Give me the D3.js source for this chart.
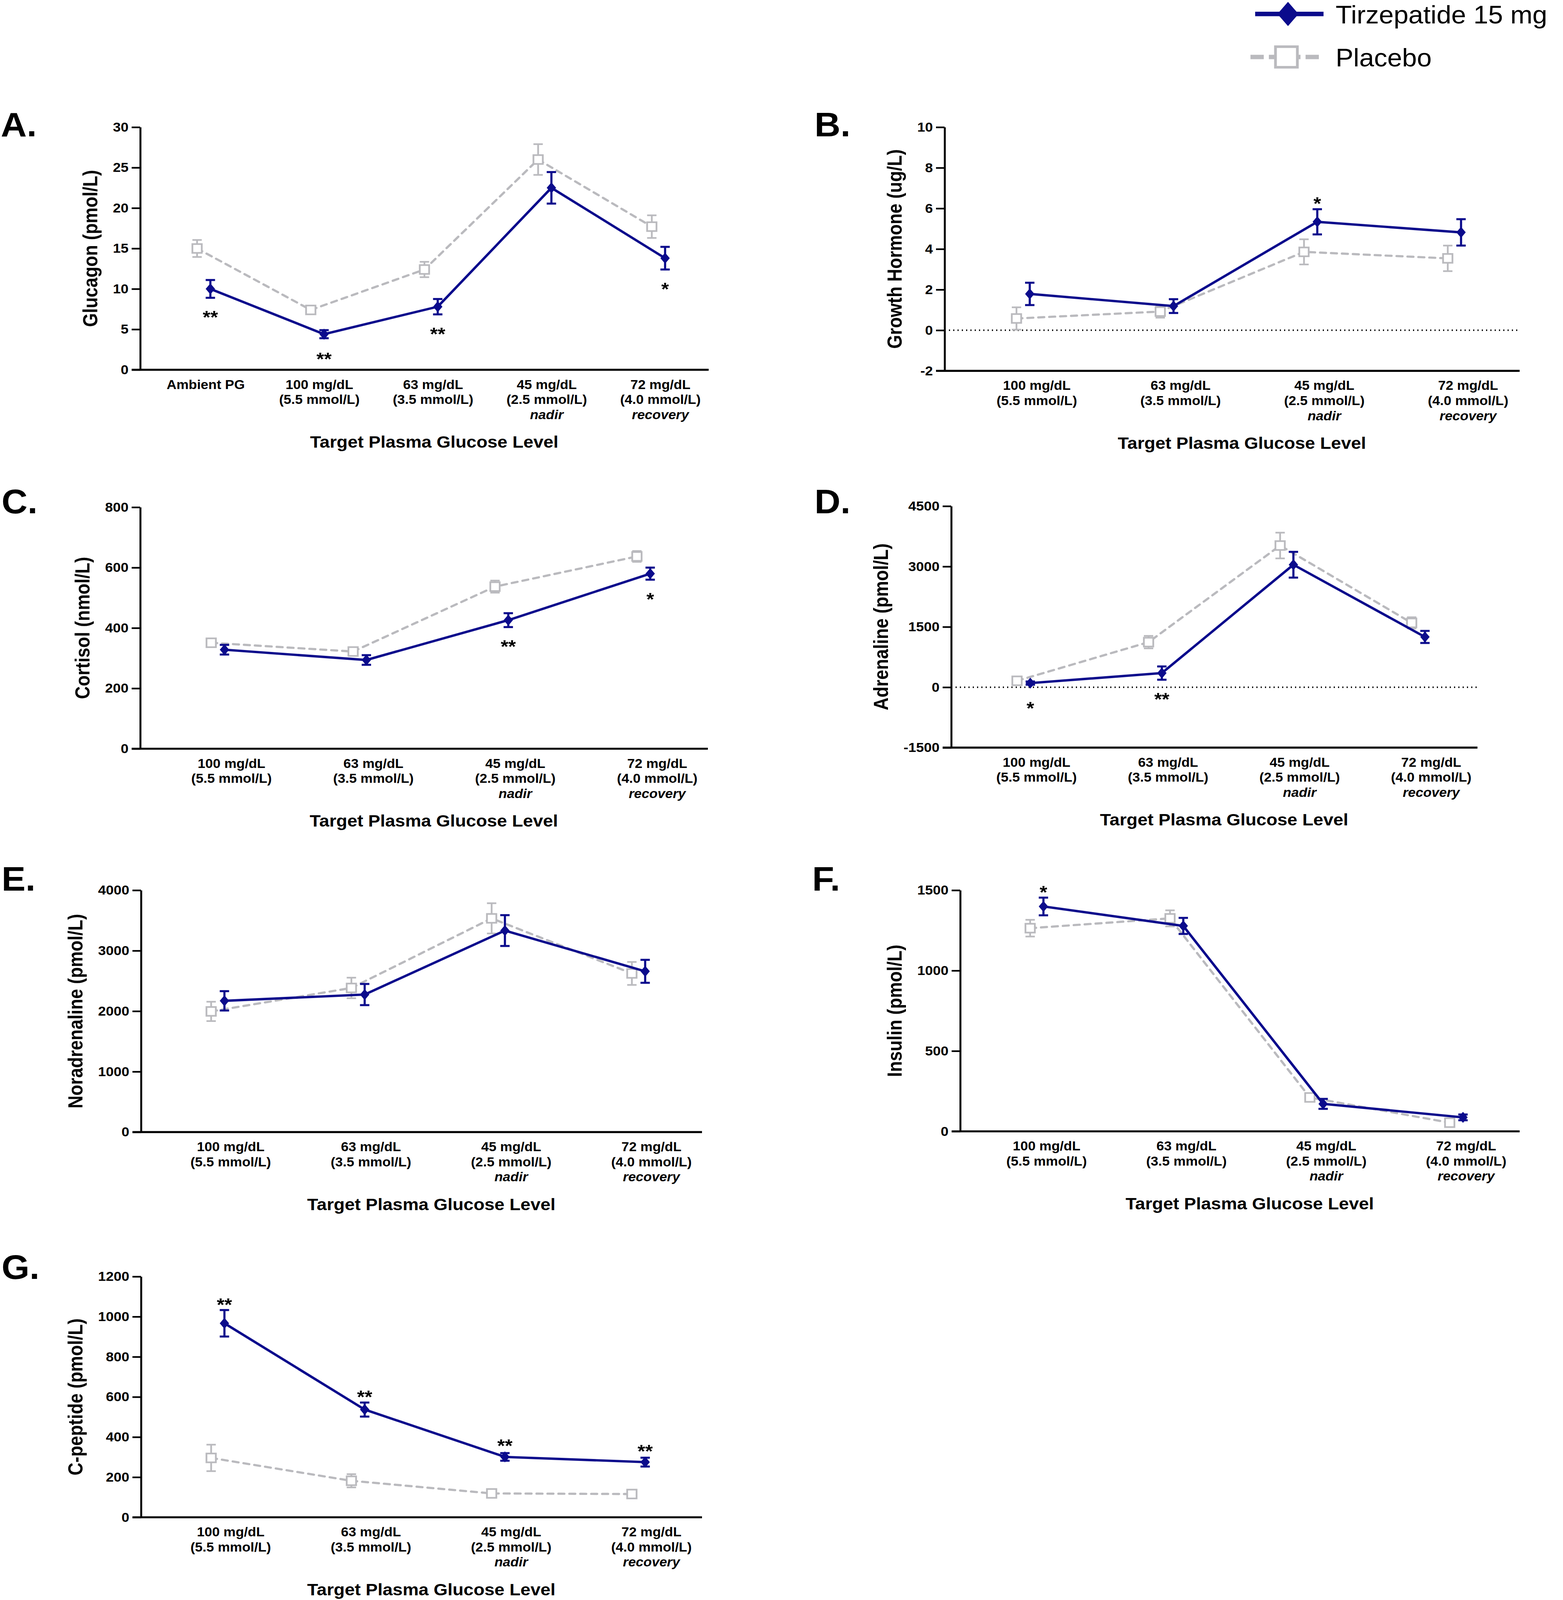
<!DOCTYPE html>
<html>
<head>
<meta charset="utf-8">
<script src="https://cdn.jsdelivr.net/npm/d3@7"></script>
<style>
  html, body { margin: 0; padding: 0; background: #fff; overflow: hidden; }
  svg { display: block; }
  text { font-family: "Liberation Sans", Arial, sans-serif; }
</style>
</head>
<body>
<div class="canvas"></div>
<script>
// category labels
const glucoseLabels = [
  ['100 mg/dL', '(5.5 mmol/L)'],
  ['63 mg/dL', '(3.5 mmol/L)'],
  ['45 mg/dL', '(2.5 mmol/L)', 'nadir'],
  ['72 mg/dL', '(4.0 mmol/L)', 'recovery']
];
const glucagonLabels = [['Ambient PG'], ...glucoseLabels];

// series values (mean and SEM)
const glucagonTirz = [10.0, 4.4, 7.8, 22.5, 13.8];
const glucagonTirzSem = [1.1, 0.5, 0.95, 1.95, 1.4];
const glucagonPbo = [15.0, 7.4, 12.4, 26.0, 17.7];
const glucagonPboSem = [1.05, 0.45, 0.95, 1.9, 1.4];
const glucagonSig = ['**', '**', '**', '', '*'];

const ghTirz = [1.79, 1.19, 5.34, 4.82];
const ghTirzSem = [0.55, 0.34, 0.62, 0.65];
const ghPbo = [0.58, 0.92, 3.86, 3.54];
const ghPboSem = [0.55, 0.3, 0.62, 0.63];
const ghSig = ['', '', '*', ''];

const cortisolTirz = [328, 294, 426, 580];
const cortisolTirzSem = [16, 16, 23, 20];
const cortisolPbo = [351, 322, 537, 637];
const cortisolPboSem = [8, 8, 20, 18];
const cortisolSig = ['', '', '**', '*'];

const adrenalineTirz = [103, 352, 3044, 1250];
const adrenalineTirzSem = [40, 165, 320, 150];
const adrenalinePbo = [160, 1121, 3521, 1599];
const adrenalinePboSem = [60, 155, 320, 140];
const adrenalineSig = ['*', '**', '', ''];

const noradTirz = [2171, 2275, 3333, 2659];
const noradTirzSem = [160, 175, 255, 190];
const noradPbo = [1996, 2384, 3535, 2624];
const noradPboSem = [160, 170, 250, 190];
const noradSig = ['', '', '', ''];

const insulinTirz = [1399, 1278, 171, 87];
const insulinTirzSem = [55, 50, 31, 18];
const insulinPbo = [1264, 1325, 211, 54];
const insulinPboSem = [52, 50, 25, 12];
const insulinSig = ['*', '', '', ''];

const cpepTirz = [967, 537, 301, 275];
const cpepTirzSem = [66, 35, 19, 22];
const cpepPbo = [296, 182, 119, 116];
const cpepPboSem = [66, 33, 10, 8];
const cpepSig = ['**', '**', '**', '**'];

// y ticks
const glucagonTicks = [0, 5, 10, 15, 20, 25, 30];
const ghTicks = [-2, 0, 2, 4, 6, 8, 10];
const cortisolTicks = [0, 200, 400, 600, 800];
const adrenalineTicks = [-1500, 0, 1500, 3000, 4500];
const noradTicks = [0, 1000, 2000, 3000, 4000];
const insulinTicks = [0, 500, 1000, 1500];
const cpepTicks = [0, 200, 400, 600, 800, 1000, 1200];

const seriesNames = ['Tirzepatide 15 mg', 'Placebo'];

const navy = '#0b0b8c';
const grey = '#bababe';

// the figure is laid out on a 4001x4353 sheet and fitted into the window
const svg = d3.select('.canvas')
  .append('svg')
    .attr('width', window.innerWidth || 4001)
    .attr('height', window.innerHeight || 4353)
    .attr('viewBox', '0 0 4001 4353')
    .attr('preserveAspectRatio', 'none');
svg.append('rect').attr('width', 4001).attr('height', 4353).attr('fill', '#fff');

const tickLen = 22;
const diamond = (w, h) => `M0,${-h}L${w},0L0,${h}L${-w},0Z`;

function drawPanel(p) {
  const W = p.x1 - p.x0;
  const H = p.y1 - p.y0;
  const g = svg.append('g').attr('transform', `translate(${p.x0},${p.y0})`);

  const x = d3.scaleBand()
    .domain(d3.range(p.labels.length))
    .range([0, W]);
  const y = d3.scaleLinear()
    .domain([p.ticks[0], p.ticks[p.ticks.length - 1]])
    .range([H, 0]);

  const px = i => x(i) + x.bandwidth() / 2;   // placebo
  const tx = i => px(i) + 34;                 // tirzepatide

  // zero reference line
  if (p.ticks[0] < 0) {
    g.append('line')
      .attr('x1', 0).attr('x2', W)
      .attr('y1', y(0)).attr('y2', y(0))
      .attr('stroke', '#000').attr('stroke-width', 4)
      .attr('stroke-dasharray', '3,8');
  }

  // y axis
  const yAxis = g.append('g')
    .call(d3.axisLeft(y).tickValues(p.ticks).tickFormat(d => String(d))
      .tickSize(tickLen).tickSizeOuter(0).tickPadding(8));
  yAxis.select('.domain').attr('stroke-width', 5);
  yAxis.selectAll('.tick line').attr('stroke-width', 4.5);
  yAxis.selectAll('.tick text')
    .attr('font-size', 36).attr('font-weight', 'bold')
    .attr('font-family', '"Liberation Sans", Arial, sans-serif');
  let maxW = 0;
  yAxis.selectAll('.tick text').each(function () {
    maxW = Math.max(maxW, this.getComputedTextLength());
  });

  // x axis
  const xAxis = g.append('g')
    .attr('transform', `translate(0,${H})`)
    .call(d3.axisBottom(x).tickSize(0).tickFormat(''));
  xAxis.select('.domain').attr('d', `M${-tickLen},0H${W}`).attr('stroke-width', 5.5);

  const labs = g.append('g').selectAll('text')
    .data(p.labels)
    .enter().append('text')
      .attr('text-anchor', 'middle')
      .attr('font-size', 35)
      .attr('font-weight', 'bold')
      .attr('transform', (d, i) => `translate(${px(i) + p.labelShift},${H + 52})`);
  labs.selectAll('tspan')
    .data(d => d)
    .enter().append('tspan')
      .attr('x', 0)
      .attr('y', (d, i) => i * 41)
      .attr('font-style', (d, i) => i === 2 ? 'italic' : 'normal')
      .text(d => d);

  // axis titles
  g.append('text')
    .attr('text-anchor', 'middle')
    .attr('font-size', 46).attr('font-weight', 'bold')
    .attr('x', W / 2 + 25).attr('y', H + 212)
    .text('Target Plasma Glucose Level');
  g.append('text')
    .attr('text-anchor', 'middle')
    .attr('font-size', 52).attr('font-weight', 'bold')
    .attr('transform', `translate(${-(tickLen + 8 + maxW + 40)},${H / 2}) rotate(-90) scale(0.93,1)`)
    .text(p.ylab);

  // panel letter
  svg.append('text')
    .attr('x', p.lx).attr('y', p.ly)
    .attr('font-size', 92).attr('font-weight', 'bold')
    .text(p.letter);

  // placebo
  const pbo = p.pbo.map((v, i) => ({ i, v, e: p.pboSem[i] }));
  g.append('path')
    .datum(pbo)
    .attr('fill', 'none').attr('stroke', grey).attr('stroke-width', 6)
    .attr('stroke-dasharray', '15,13').attr('stroke-linecap', 'round')
    .attr('d', d3.line().x(d => px(d.i)).y(d => y(d.v)));
  drawBars(g, pbo, px, y, grey, 4.5);
  g.selectAll('.pbo-pt')
    .data(pbo)
    .enter().append('rect')
      .attr('class', 'pbo-pt')
      .attr('x', d => px(d.i) - 12).attr('y', d => y(d.v) - 12)
      .attr('width', 24).attr('height', 24)
      .attr('fill', '#fff').attr('stroke', grey).attr('stroke-width', 4.5);

  // tirzepatide
  const tir = p.tirz.map((v, i) => ({ i, v, e: p.tirzSem[i], s: p.sig[i] }));
  g.append('path')
    .datum(tir)
    .attr('fill', 'none').attr('stroke', navy).attr('stroke-width', 6.5)
    .attr('d', d3.line().x(d => tx(d.i)).y(d => y(d.v)));
  drawBars(g, tir, tx, y, navy, 5.5);
  g.selectAll('.tir-pt')
    .data(tir)
    .enter().append('path')
      .attr('class', 'tir-pt')
      .attr('d', diamond(12, 15))
      .attr('fill', navy)
      .attr('transform', d => `translate(${tx(d.i)},${y(d.v)})`);

  // significance marks
  g.selectAll('.sig')
    .data(tir.filter(d => d.s))
    .enter().append('text')
      .attr('class', 'sig')
      .attr('text-anchor', 'middle')
      .attr('font-size', 50).attr('font-weight', 'bold')
      .attr('x', d => tx(d.i))
      .attr('y', d => p.starSide === 'below'
        ? Math.max(y(d.v - d.e), y(d.v) + 15) + 70
        : Math.min(y(d.v + d.e), y(d.v) - 15) + 2)
      .text(d => d.s);
}

function drawBars(g, data, xf, y, color, sw) {
  const cap = 12;
  const bars = g.append('g').attr('stroke', color).attr('stroke-width', sw);
  bars.selectAll('.v').data(data).enter().append('line')
    .attr('x1', d => xf(d.i)).attr('x2', d => xf(d.i))
    .attr('y1', d => y(d.v + d.e)).attr('y2', d => y(d.v - d.e));
  bars.selectAll('.t').data(data).enter().append('line')
    .attr('x1', d => xf(d.i) - cap).attr('x2', d => xf(d.i) + cap)
    .attr('y1', d => y(d.v + d.e)).attr('y2', d => y(d.v + d.e));
  bars.selectAll('.b').data(data).enter().append('line')
    .attr('x1', d => xf(d.i) - cap).attr('x2', d => xf(d.i) + cap)
    .attr('y1', d => y(d.v - d.e)).attr('y2', d => y(d.v - d.e));
}

const panels = [
  { letter: 'A.', lx: 2, ly: 371, x0: 359, x1: 1814, y0: 346, y1: 1006, labelShift: 22,
    labels: glucagonLabels, ticks: glucagonTicks, ylab: 'Glucagon (pmol/L)',
    tirz: glucagonTirz, tirzSem: glucagonTirzSem, pbo: glucagonPbo, pboSem: glucagonPboSem,
    sig: glucagonSig, starSide: 'below' },
  { letter: 'B.', lx: 2085, ly: 371, x0: 2418, x1: 3890, y0: 346, y1: 1009, labelShift: 52,
    labels: glucoseLabels, ticks: ghTicks, ylab: 'Growth Hormone (ug/L)',
    tirz: ghTirz, tirzSem: ghTirzSem, pbo: ghPbo, pboSem: ghPboSem,
    sig: ghSig, starSide: 'above' },
  { letter: 'C.', lx: 4, ly: 1396, x0: 359, x1: 1812, y0: 1380, y1: 2037, labelShift: 52,
    labels: glucoseLabels, ticks: cortisolTicks, ylab: 'Cortisol (nmol/L)',
    tirz: cortisolTirz, tirzSem: cortisolTirzSem, pbo: cortisolPbo, pboSem: cortisolPboSem,
    sig: cortisolSig, starSide: 'below' },
  { letter: 'D.', lx: 2085, ly: 1396, x0: 2435, x1: 3782, y0: 1377, y1: 2034, labelShift: 50,
    labels: glucoseLabels, ticks: adrenalineTicks, ylab: 'Adrenaline (pmol/L)',
    tirz: adrenalineTirz, tirzSem: adrenalineTirzSem, pbo: adrenalinePbo, pboSem: adrenalinePboSem,
    sig: adrenalineSig, starSide: 'below' },
  { letter: 'E.', lx: 4, ly: 2423, x0: 361, x1: 1797, y0: 2422, y1: 3080, labelShift: 50,
    labels: glucoseLabels, ticks: noradTicks, ylab: 'Noradrenaline (pmol/L)',
    tirz: noradTirz, tirzSem: noradTirzSem, pbo: noradPbo, pboSem: noradPboSem,
    sig: noradSig, starSide: 'above' },
  { letter: 'F.', lx: 2079, ly: 2423, x0: 2458, x1: 3890, y0: 2422, y1: 3078, labelShift: 42,
    labels: glucoseLabels, ticks: insulinTicks, ylab: 'Insulin (pmol/L)',
    tirz: insulinTirz, tirzSem: insulinTirzSem, pbo: insulinPbo, pboSem: insulinPboSem,
    sig: insulinSig, starSide: 'above' },
  { letter: 'G.', lx: 4, ly: 3479, x0: 361, x1: 1797, y0: 3473, y1: 4128, labelShift: 50,
    labels: glucoseLabels, ticks: cpepTicks, ylab: 'C-peptide (pmol/L)',
    tirz: cpepTirz, tirzSem: cpepTirzSem, pbo: cpepPbo, pboSem: cpepPboSem,
    sig: cpepSig, starSide: 'above' }
];

panels.forEach(drawPanel);

// legend
const legend = svg.append('g').attr('transform', 'translate(3213,0)');
const rows = legend.selectAll('g')
  .data(seriesNames)
  .enter().append('g')
    .attr('transform', (d, i) => `translate(0,${i === 0 ? 38 : 155})`);
rows.filter((d, i) => i === 0).call(r => {
  r.append('line').attr('x1', 0).attr('x2', 175).attr('stroke', navy).attr('stroke-width', 12);
  r.append('path').attr('d', diamond(27, 33)).attr('transform', 'translate(84,0)').attr('fill', navy);
});
rows.filter((d, i) => i === 1).call(r => {
  r.append('line').attr('x1', -12).attr('x2', 175).attr('stroke', grey).attr('stroke-width', 12)
    .attr('stroke-dasharray', '34,13');
  r.append('rect').attr('x', 52).attr('y', -28).attr('width', 56).attr('height', 56)
    .attr('fill', '#fff').attr('stroke', grey).attr('stroke-width', 7);
});
rows.append('text')
  .attr('x', 206).attr('y', 26)
  .attr('font-size', 68)
  .text(d => d);
</script>
</body>
</html>
